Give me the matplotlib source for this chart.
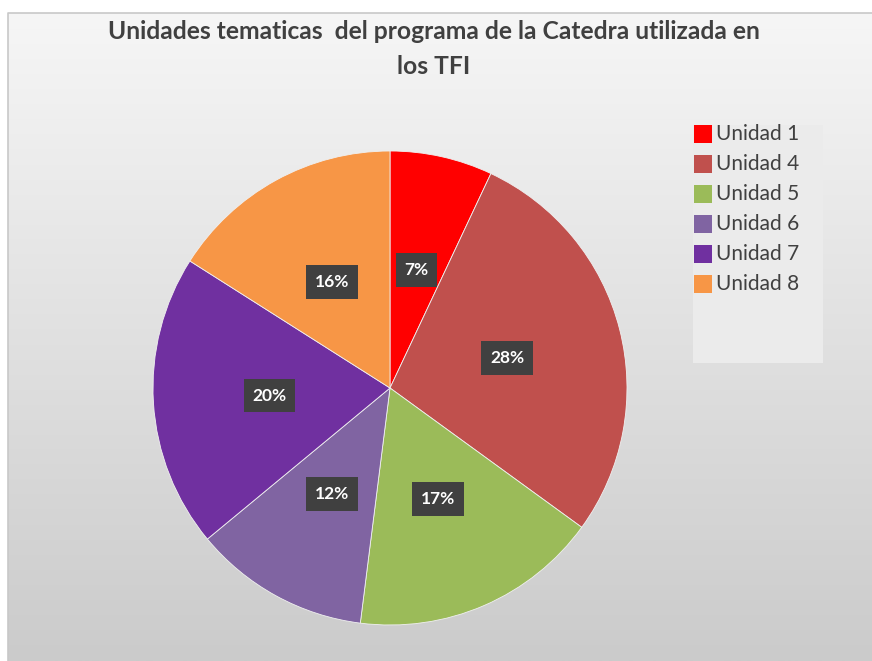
import numpy as np
import matplotlib
matplotlib.use("Agg")
import matplotlib.pyplot as plt
from matplotlib.colors import LinearSegmentedColormap

categories = ["Unidad 1", "Unidad 4", "Unidad 5", "Unidad 6", "Unidad 7", "Unidad 8"]
values = [7, 28, 17, 12, 20, 16]
colors = ["#ff0000", "#c0504d", "#9bbb59", "#8064a2", "#7030a0", "#f79646"]
title = "Unidades tematicas  del programa de la Catedra utilizada en\nlos TFI"

W, H = 872, 661
fig = plt.figure(figsize=(W / 100, H / 100), dpi=100)
fig.patch.set_facecolor("white")

def px_axes(x0, y0, x1, y1):
    return fig.add_axes([x0 / W, 1 - y1 / H, (x1 - x0) / W, (y1 - y0) / H])

# background gradient panel
bg = px_axes(8, 13, W, H)
grad = np.linspace(0, 1, 256).reshape(-1, 1)
cmap = LinearSegmentedColormap.from_list("g", ["#f6f6f6", "#cbcbcb"])
bg.imshow(grad, aspect="auto", cmap=cmap, extent=[0, 1, 0, 1], origin="upper")
bg.set_axis_off()
bg.plot([0, 0, 1], [0, 1, 1], color="#c8c8c8", lw=1.2, transform=bg.transAxes, clip_on=False)

fig.text(434 / W, 1 - 49 / H, title, ha="center", va="center", fontsize=17.7,
         fontweight="bold", color="#404040", family="Lato", linespacing=1.6)

# pie
cx, cy, r = 390, 388, 237
ax = px_axes(cx - r, cy - r, cx + r, cy + r)
wedges, texts, autotexts = ax.pie(values, colors=colors, startangle=90, counterclock=False,
                                  autopct="%1.0f%%", pctdistance=0.51, radius=1.0,
                                  wedgeprops=dict(linewidth=0.6, edgecolor="#f0f0f0"))
for t in autotexts:
    t.set_color("white")
    t.set_fontweight("bold")
    t.set_fontsize(12.5)
    t.set_family("Lato")
    t.set_bbox(dict(boxstyle="square,pad=0.5", facecolor="#404040", edgecolor="none"))
ax.set_xlim(-1, 1)
ax.set_ylim(-1, 1)
ax.set_aspect("equal")

# legend panel
lg = px_axes(693, 125, 823, 363)
lg.set_facecolor("#ebebeb")
lg.set_xticks([]); lg.set_yticks([])
for s in lg.spines.values():
    s.set_visible(False)
lg.set_xlim(693, 823)
lg.set_ylim(363, 125)
for i, (c, lab) in enumerate(zip(colors, categories)):
    y = 134 + i * 30
    lg.add_patch(plt.Rectangle((694, y - 9), 18, 18, facecolor=c, edgecolor="none"))
    lg.text(716, y + 0.5, lab, va="center", ha="left", fontsize=15, color="#404040", family="Lato")

fig.savefig("out.png", dpi=100)
